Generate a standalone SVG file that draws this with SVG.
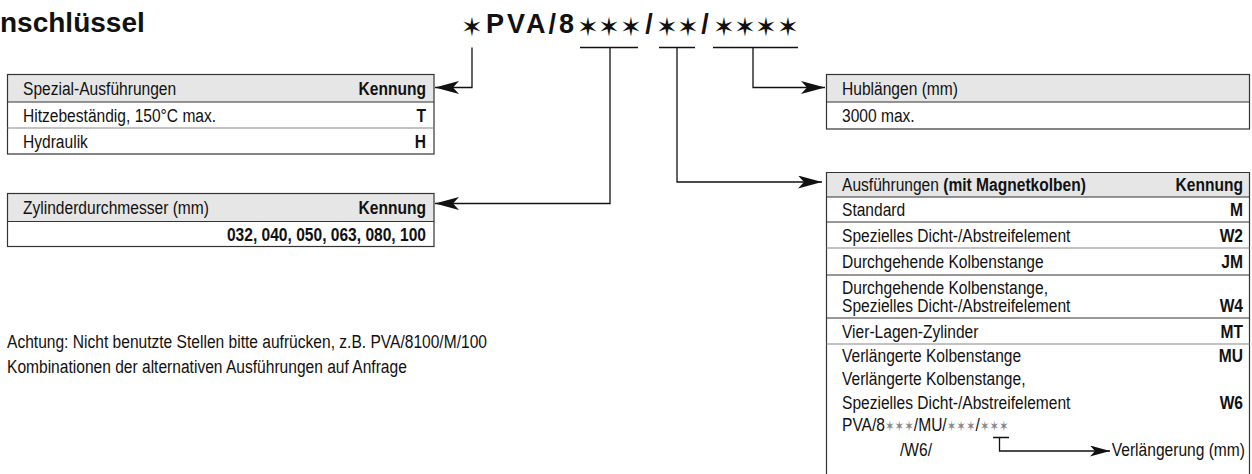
<svg xmlns="http://www.w3.org/2000/svg" width="1252" height="474" viewBox="0 0 1252 474">
<defs>
<marker id="ah" markerUnits="userSpaceOnUse" markerWidth="26" markerHeight="14" refX="24" refY="6.5" orient="auto">
<path d="M0,0 L24,6.5 L0,13 L6,6.5 z" fill="#111"/>
</marker>
<marker id="ahs" markerUnits="userSpaceOnUse" markerWidth="22" markerHeight="12" refX="20" refY="5.5" orient="auto">
<path d="M0,0 L20,5.5 L0,11 L5,5.5 z" fill="#111"/>
</marker>
</defs>
<style>
text{font-family:"Liberation Sans",Arial,sans-serif;font-size:19px;fill:#111}
.b{font-weight:bold}
.e{text-anchor:end}
.m{text-anchor:middle}
.hdr{fill:#e6e6e6;stroke:none}
.box{fill:none;stroke:#333;stroke-width:1.2}
.sep{stroke:#333;stroke-width:1.2}
.sepg{stroke:#888;stroke-width:1.2}
.con{fill:none;stroke:#111;stroke-width:1.3}
.star{font-family:"DejaVu Sans",sans-serif;font-size:26px;text-anchor:middle;fill:#111}
.gs{font-family:"DejaVu Sans",sans-serif;font-size:14px;fill:#888}
.code{font-weight:bold;font-size:27px}
</style>

<g id="title">
<text class="b" x="0" y="32" style="font-size:28px">nschlüssel</text>
</g>

<g id="code">
<text class="star" x="472" y="36">✶</text>
<text class="code" x="486" y="33" textLength="88" lengthAdjust="spacing">PVA/8</text>
<text class="star" x="588 609 631" y="36">✶✶✶</text>
<text class="code m" x="649" y="33">/</text>
<text class="star" x="667 688" y="36">✶✶</text>
<text class="code m" x="705" y="33">/</text>
<text class="star" x="724 745 766 788" y="36">✶✶✶✶</text>
</g>

<g id="connectors">
<path class="con" d="M580,47.5 H638 M659,47.5 H695 M713,47.5 H798"/>
<path class="con" d="M472,47.5 V87.5 H435" marker-end="url(#ah)"/>
<path class="con" d="M610,47.5 V203.5 H435" marker-end="url(#ah)"/>
<path class="con" d="M753,47.5 V87.5 H825" marker-end="url(#ah)"/>
<path class="con" d="M677,47.5 V182 H822" marker-end="url(#ah)"/>
</g>

<g id="spezial">
<rect class="hdr" x="7.5" y="74.5" width="426.5" height="27.5"/>
<rect class="box" x="7.5" y="74.5" width="426.5" height="79.5"/>
<line class="sep" x1="7.5" y1="102" x2="434" y2="102"/>
<line class="sepg" x1="7.5" y1="128" x2="434" y2="128"/>
<text transform="matrix(.82 0 0 1 23 95)">Spezial-Ausführungen</text>
<text class="b e" transform="matrix(.82 0 0 1 426 95)">Kennung</text>
<text transform="matrix(.82 0 0 1 23 122)">Hitzebeständig, 150°C max.</text>
<text class="b e" transform="matrix(.82 0 0 1 426 122)">T</text>
<text transform="matrix(.82 0 0 1 23 148)">Hydraulik</text>
<text class="b e" transform="matrix(.82 0 0 1 426 148)">H</text>
</g>

<g id="zylinder">
<rect class="hdr" x="7.5" y="193.5" width="426.5" height="28"/>
<rect class="box" x="7.5" y="193.5" width="426.5" height="53"/>
<line class="sep" x1="7.5" y1="221.5" x2="434" y2="221.5"/>
<text transform="matrix(.82 0 0 1 23 214)">Zylinderdurchmesser (mm)</text>
<text class="b e" transform="matrix(.82 0 0 1 426 214)">Kennung</text>
<text class="b e" transform="matrix(.82 0 0 1 426 240.5)">032, 040, 050, 063, 080, 100</text>
</g>

<g id="hub">
<rect class="hdr" x="826.5" y="74.5" width="423" height="27.5"/>
<rect class="box" x="826.5" y="74.5" width="423" height="54.5"/>
<line class="sep" x1="826.5" y1="102" x2="1249.5" y2="102"/>
<text transform="matrix(.82 0 0 1 842 95)">Hublängen (mm)</text>
<text transform="matrix(.82 0 0 1 842 122)">3000 max.</text>
</g>

<g id="ausfuehrungen">
<rect class="hdr" x="826.5" y="172.5" width="423" height="24.5"/>
<path class="box" d="M826.5,474 V172.5 H1249.5 V474"/>
<line class="sep" x1="826.5" y1="197" x2="1249.5" y2="197"/>
<line class="sep" x1="826.5" y1="222" x2="1249.5" y2="222"/>
<line class="sepg" x1="826.5" y1="248" x2="1249.5" y2="248"/>
<line class="sep" x1="826.5" y1="275" x2="1249.5" y2="275"/>
<line class="sep" x1="826.5" y1="318" x2="1249.5" y2="318"/>
<line class="sepg" x1="826.5" y1="344" x2="1249.5" y2="344"/>
<text transform="matrix(.82 0 0 1 842 190.5)">Ausführungen <tspan class="b">(mit Magnetkolben)</tspan></text>
<text class="b e" transform="matrix(.82 0 0 1 1243 190.5)">Kennung</text>
<text transform="matrix(.82 0 0 1 842 216)">Standard</text>
<text class="b e" transform="matrix(.82 0 0 1 1243 216)">M</text>
<text transform="matrix(.82 0 0 1 842 241.5)">Spezielles Dicht-/Abstreifelement</text>
<text class="b e" transform="matrix(.82 0 0 1 1243 241.5)">W2</text>
<text transform="matrix(.82 0 0 1 842 268)">Durchgehende Kolbenstange</text>
<text class="b e" transform="matrix(.82 0 0 1 1243 268)">JM</text>
<text transform="matrix(.82 0 0 1 842 294)">Durchgehende Kolbenstange,</text>
<text transform="matrix(.82 0 0 1 842 311.5)">Spezielles Dicht-/Abstreifelement</text>
<text class="b e" transform="matrix(.82 0 0 1 1243 311.5)">W4</text>
<text transform="matrix(.82 0 0 1 842 337.5)">Vier-Lagen-Zylinder</text>
<text class="b e" transform="matrix(.82 0 0 1 1243 337.5)">MT</text>
<text transform="matrix(.82 0 0 1 842 361.5)">Verlängerte Kolbenstange</text>
<text class="b e" transform="matrix(.82 0 0 1 1243 361.5)">MU</text>
<text transform="matrix(.82 0 0 1 842 384.5)">Verlängerte Kolbenstange,</text>
<text transform="matrix(.82 0 0 1 842 408.5)">Spezielles Dicht-/Abstreifelement</text>
<text class="b e" transform="matrix(.82 0 0 1 1243 408.5)">W6</text>
<text transform="matrix(.82 0 0 1 842 430.5)">PVA/8<tspan class="gs">✶✶✶</tspan>/MU/<tspan class="gs">✶✶✶</tspan>/<tspan class="gs">✶✶✶</tspan></text>
<text transform="matrix(.82 0 0 1 900 456)">/W6/</text>
<text class="e" transform="matrix(.82 0 0 1 1245 456)">Verlängerung (mm)</text>
<path class="con" d="M993,437.5 H1009 M999.5,437.5 V451 H1110" marker-end="url(#ahs)"/>
</g>

<g id="notes">
<text transform="matrix(.82 0 0 1 7 348)">Achtung: Nicht benutzte Stellen bitte aufrücken, z.B. PVA/8100/M/100</text>
<text transform="matrix(.82 0 0 1 7 373)">Kombinationen der alternativen Ausführungen auf Anfrage</text>
</g>
</svg>
